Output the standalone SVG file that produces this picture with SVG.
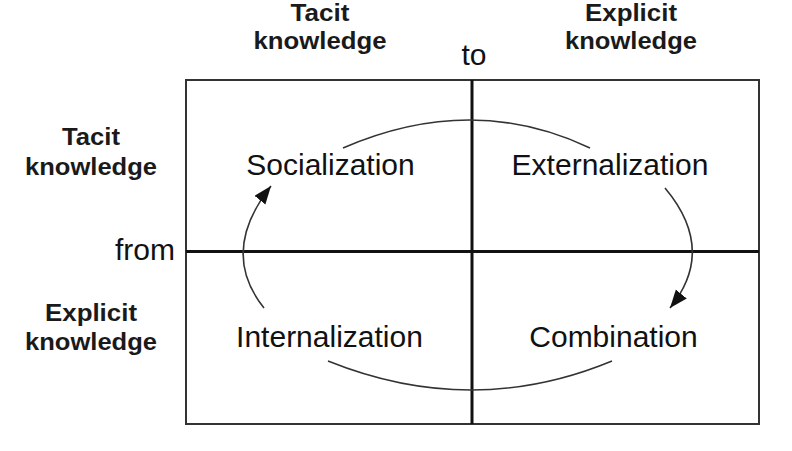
<svg xmlns="http://www.w3.org/2000/svg" width="792" height="451" viewBox="0 0 792 451">
<style>
.lbl{font-family:"Liberation Sans",Arial,sans-serif;font-size:23px;font-weight:bold;fill:#1a1a1a;text-anchor:middle}
.big{font-family:"Liberation Sans",Arial,sans-serif;font-size:30px;fill:#111;text-anchor:middle}
.grid{stroke:#111;stroke-width:3;fill:none}
.arc{stroke:#333;stroke-width:1.6;fill:none}
</style>
<defs>
<marker id="ah" markerUnits="userSpaceOnUse" markerWidth="20" markerHeight="16" refX="18" refY="7" orient="auto">
<path d="M0,0 L18,7 L0,14 z" fill="#111"/>
</marker>
</defs>
<rect width="792" height="451" fill="#fff"/>
<g id="frame">
<rect x="186" y="80" width="573" height="344" fill="none" stroke="#333" stroke-width="2"/>
<line class="grid" x1="472" y1="80" x2="472" y2="424"/>
<line class="grid" x1="186" y1="251.5" x2="759" y2="251.5"/>
</g>
<g id="axis-labels">
<text class="lbl" x="320" y="21" textLength="59" lengthAdjust="spacingAndGlyphs">Tacit</text>
<text class="lbl" x="320" y="49" textLength="133" lengthAdjust="spacingAndGlyphs">knowledge</text>
<text class="lbl" x="631" y="21" textLength="92" lengthAdjust="spacingAndGlyphs">Explicit</text>
<text class="lbl" x="631" y="49" textLength="132" lengthAdjust="spacingAndGlyphs">knowledge</text>
<text class="big" x="474" y="65">to</text>
<text class="lbl" x="91" y="145" textLength="58" lengthAdjust="spacingAndGlyphs">Tacit</text>
<text class="lbl" x="91" y="175" textLength="132" lengthAdjust="spacingAndGlyphs">knowledge</text>
<text class="big" x="175" y="260" style="text-anchor:end">from</text>
<text class="lbl" x="91" y="321" textLength="92" lengthAdjust="spacingAndGlyphs">Explicit</text>
<text class="lbl" x="91" y="350" textLength="132" lengthAdjust="spacingAndGlyphs">knowledge</text>
</g>
<g id="socialization"><text class="big" x="330.5" y="175">Socialization</text></g>
<g id="externalization"><text class="big" x="610" y="175">Externalization</text></g>
<g id="internalization"><text class="big" x="329.5" y="347">Internalization</text></g>
<g id="combination"><text class="big" x="613.5" y="347">Combination</text></g>
<g id="connectors">
<path class="arc" d="M343,148 Q472,92 590,148"/>
<path class="arc" d="M665,188 Q717,250 670,308" marker-end="url(#ah)"/>
<path class="arc" d="M612,361 Q472,419 328,361"/>
<path class="arc" d="M264,308 Q219,252 271,186" marker-end="url(#ah)"/>
</g>
</svg>
